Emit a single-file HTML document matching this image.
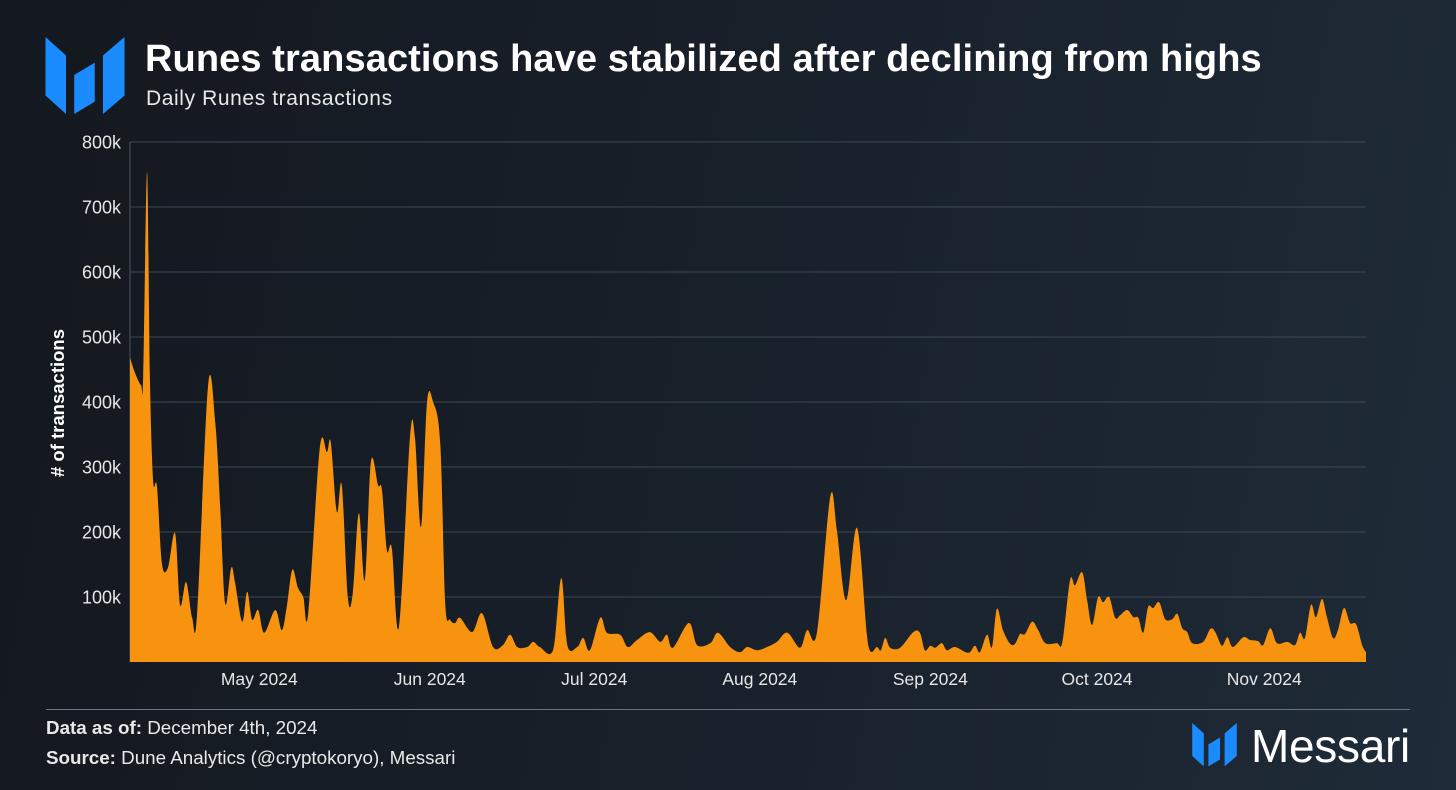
<!DOCTYPE html>
<html><head><meta charset="utf-8">
<style>
html,body{margin:0;padding:0}
body{width:1456px;height:790px;overflow:hidden;background:linear-gradient(100deg,#14181f 0%,#18202a 50%,#1f2b38 100%);font-family:"Liberation Sans",Arial,sans-serif;color:#fff;position:relative}
.t{position:absolute;white-space:nowrap}
</style></head><body>
<svg width="80" height="78" viewBox="0 0 77 76" style="position:absolute;left:45px;top:37px">
<polygon points="0,0 20,18 20,75 0,57" fill="#1a8cff"/>
<polygon points="28,37 48,25 48,63 28,75" fill="#1a8cff"/>
<polygon points="56,18 77,0 77,57 56,75" fill="#1a8cff"/>
</svg>
<div class="t" style="left:145px;top:38px;font-size:38px;font-weight:bold;letter-spacing:0.1px">Runes transactions have stabilized after declining from highs</div>
<div class="t" style="left:146px;top:87px;font-size:21px;letter-spacing:0.6px;color:#e8e8e8">Daily Runes transactions</div>
<svg id="chart" width="1456" height="700" style="position:absolute;left:0;top:0"></svg>
<div style="position:absolute;left:46px;top:709px;width:1364px;height:1px;background:#6b737c"></div>
<div class="t" style="left:46px;top:717px;font-size:18.8px;color:#e8e8e8"><b>Data as of:</b> December 4th, 2024</div>
<div class="t" style="left:46px;top:747px;font-size:18.8px;color:#e8e8e8"><b>Source:</b> Dune Analytics (@cryptokoryo), Messari</div>
<svg width="45" height="44" viewBox="0 0 77 76" style="position:absolute;left:1192px;top:723px">
<polygon points="0,0 20,18 20,75 0,57" fill="#1a8cff"/>
<polygon points="28,37 48,25 48,63 28,75" fill="#1a8cff"/>
<polygon points="56,18 77,0 77,57 56,75" fill="#1a8cff"/>
</svg>
<div class="t" style="left:1251px;top:719px;font-size:46px;font-weight:500;letter-spacing:-0.3px">Messari</div>
<script>
const days=[0,0.9,2,2.4,3.1,3.6,4.2,4.9,5.8,6.9,8.2,9.1,10.2,11.3,12.2,14.2,15.5,16.4,17.3,18.4,19.1,20.4,21.3,22.2,23.3,24.4,26.4,27.6,28.5,29.5,30.5,31.5,32.4,34.5,35.8,36.5,37.6,38.5,39.6,40.5,41.6,42.7,43.8,45.1,45.8,46.7,47.6,48.9,50.9,51.8,52.9,54,55.1,56.4,57.3,58.2,59.1,60,62.2,64,66,67.8,69.1,70.4,72.2,73.3,74.5,76.9,78.4,79.5,81.3,82.4,83.6,85.5,86.7,89.1,90.5,92.2,94.5,96.4,97.6,98.7,101.6,103.1,105.5,106.9,109.1,110.9,112.2,114,115.8,117.6,119.5,121.8,123.1,124.9,127.3,128.5,130.2,132.2,134.2,135.8,136.5,137.3,138.2,140,142.4,143.6,144.5,145.5,146.4,147.6,148.5,150,152.4,153.6,154.5,155.8,156.7,157.6,158.7,160,160.9,161.8,162.7,164,165.1,166.4,168.5,169.5,170.9,171.8,173.1,174,174.9,176,176.9,178,179.1,180,181.3,182.4,183.3,184.2,185.1,186,187.1,188.2,189.5,190.4,191.3,192.2,193.1,195.1,196.4,197.3,198.5,199.5,200.5,202.4,203.6,205.1,206,207.3,208.5,210.4,211.8,212.7,213.6,214.7,215.6,216.7,217.6,218.7,219.6,220.7,221.8,222.9,224,224.7];
const txns=[468,445,426,440,754,445,280,270,152,145,198,88,123,68,75,426,368,238,90,145,122,62,108,65,80,45,80,49,85,142,115,100,75,329,323,338,231,272,100,106,229,126,308,272,265,172,175,54,346,345,208,400,400,337,91,65,60,68,46,75,23,26,42,23,23,31,23,18,129,26,23,37,18,68,45,42,23,34,46,31,42,22,60,26,29,45,23,15,23,18,23,31,45,22,49,46,254,203,95,206,26,23,18,37,22,22,46,45,18,25,22,29,18,23,14,25,15,42,23,82,49,28,28,43,43,62,49,29,29,31,126,118,138,95,57,100,92,100,68,72,80,69,68,45,85,83,92,66,66,74,52,46,29,31,51,46,25,38,23,38,34,32,26,52,29,31,26,45,37,88,69,97,69,37,49,83,60,58,26,15];
const yTicks=[100,200,300,400,500,600,700,800];
const yTickLabels=["100k","200k","300k","400k","500k","600k","700k","800k"];
const monthDays=[23.5,54.5,84.4,114.5,145.5,175.8,206.2];
const monthLabels=["May 2024","Jun 2024","Jul 2024","Aug 2024","Sep 2024","Oct 2024","Nov 2024"];
const NS="http://www.w3.org/2000/svg";
const svg=document.getElementById('chart');
const X0=130,X1=1366,Y0=662,Y1=142,DMAX=224.7,VMAX=800;
const xs=d=>X0+(d/DMAX)*(X1-X0);
const ys=v=>Y0-(v/VMAX)*(Y0-Y1);
function mk(tag,attrs){const e=document.createElementNS(NS,tag);for(const k in attrs)e.setAttribute(k,attrs[k]);svg.appendChild(e);return e;}
yTicks.forEach((v,i)=>{
 const g=mk('line',{x1:X0,x2:X1,y1:ys(v),y2:ys(v),stroke:'#3d4752','stroke-width':1});
 
 
 const t=mk('text',{x:121,y:ys(v)+6.5,'text-anchor':'end',fill:'#e6e6e6','font-size':18});
 t.textContent=yTickLabels[i];
 
 
});
const ax=mk('line',{x1:X0,x2:X0,y1:Y1,y2:Y0,stroke:'#4a545e','stroke-width':1});


const yt=mk('text',{x:0,y:0,transform:'translate(64,403) rotate(-90)','text-anchor':'middle',fill:'#fff','font-size':18.5,'font-weight':'bold'});
yt.textContent='# of transactions';


const P=days.map((d,i)=>[xs(d),ys(txns[i])]);
let dstr='M'+P[0][0]+','+Y0+' L'+P[0][0]+','+P[0][1];
for(let i=0;i<P.length-1;i++){
 const p0=P[Math.max(0,i-1)],p1=P[i],p2=P[i+1],p3=P[Math.min(P.length-1,i+2)];
 const k=1/6;
 let c1x=p1[0]+(p2[0]-p0[0])*k,c1y=p1[1]+(p2[1]-p0[1])*k;
 let c2x=p2[0]-(p3[0]-p1[0])*k,c2y=p2[1]-(p3[1]-p1[1])*k;
 c1x=Math.min(Math.max(c1x,p1[0]),p2[0]);c2x=Math.min(Math.max(c2x,p1[0]),p2[0]);
 c1y=Math.min(c1y,Y0-2);c2y=Math.min(c2y,Y0-2);
 dstr+=` C${c1x},${c1y} ${c2x},${c2y} ${p2[0]},${p2[1]}`;
}
dstr+=` L${P[P.length-1][0]},${Y0} Z`;
const area=mk('path',{d:dstr,fill:'#f7930f'});


monthDays.forEach((d,i)=>{
 const t=mk('text',{x:xs(d),y:685,'text-anchor':'middle',fill:'#e6e6e6','font-size':17.5});
 t.textContent=monthLabels[i];
 
 
});
</script>
</body></html>
